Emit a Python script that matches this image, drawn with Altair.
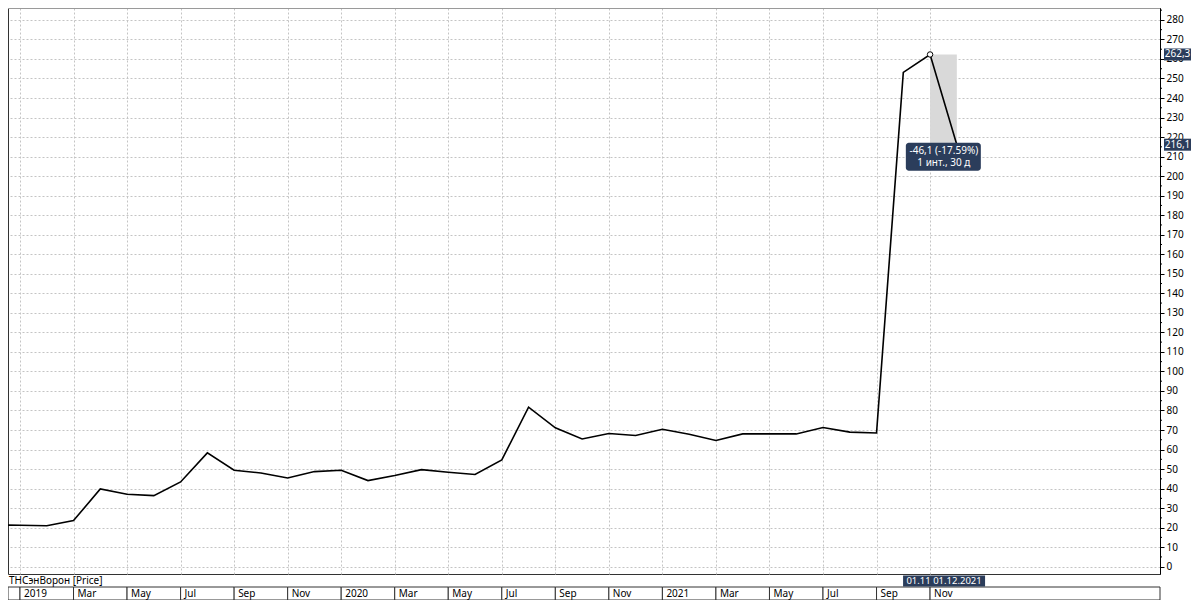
import altair as alt
import pandas as pd

# ---------------- data ----------------
months = [
    "2018-12",
    "2019-01", "2019-02", "2019-03", "2019-04", "2019-05", "2019-06",
    "2019-07", "2019-08", "2019-09", "2019-10", "2019-11", "2019-12",
    "2020-01", "2020-02", "2020-03", "2020-04", "2020-05", "2020-06",
    "2020-07", "2020-08", "2020-09", "2020-10", "2020-11", "2020-12",
    "2021-01", "2021-02", "2021-03", "2021-04", "2021-05", "2021-06",
    "2021-07", "2021-08", "2021-09", "2021-10", "2021-11", "2021-12",
]
prices = [
    21.4,
    21.2, 21.0, 23.6, 39.8, 37.1, 36.4,
    43.4, 58.3, 49.4, 48.0, 45.4, 48.7,
    49.4, 44.1, 46.7, 49.7, 48.4, 47.2,
    54.7, 81.7, 71.1, 65.4, 68.2, 67.2,
    70.4, 67.8, 64.6, 68.0, 68.0, 68.0,
    71.3, 68.9, 68.5, 253.1, 262.3, 216.1,
]
tick_months = [
    "2019-01", "2019-03", "2019-05", "2019-07", "2019-09", "2019-11",
    "2020-01", "2020-03", "2020-05", "2020-07", "2020-09", "2020-11",
    "2021-01", "2021-03", "2021-05", "2021-07", "2021-09", "2021-11",
]
tick_labels = [
    "2019", "Mar", "May", "Jul", "Sep", "Nov",
    "2020", "Mar", "May", "Jul", "Sep", "Nov",
    "2021", "Mar", "May", "Jul", "Sep", "Nov",
]
y_ticks = list(range(0, 281, 10))
y_minor = list(range(5, 286, 10))
series_name = "ТНСэнВорон [Price]"
change_lines = ["-46,1 (-17.59%)", "1 инт., 30 д"]
range_label = "01.11 01.12.2021"
hl_from, hl_to = "2021-11", "2021-12"

# ---------------- helpers ----------------
def midx(m):
    y, mo = m.split("-")
    return (int(y) - 2019) * 12 + int(mo) - 1

X_MIN, X_MAX = -0.448, 42.59
Y_MIN, Y_MAX = -3.74, 286.1
W, H = 1152, 566
FONT = "Noto Sans"
NAVY = "#2b3d5b"
GRID = "#c4c4c4"

x_scale = alt.Scale(domain=[X_MIN, X_MAX], nice=False, zero=False)
y_scale = alt.Scale(domain=[Y_MIN, Y_MAX], nice=False, zero=False)

x_axis = alt.Axis(values=[midx(m) for m in tick_months], grid=True, gridDash=[2, 2],
                  gridColor=GRID, gridWidth=1, labels=False, ticks=False,
                  domain=False, title=None)
y_axis = alt.Axis(orient="right", values=y_ticks, grid=True, gridDash=[2, 2],
                  gridColor=GRID, gridWidth=1, tickSize=4, tickColor="black",
                  domainColor="black", domainWidth=1, labelFontSize=10,
                  labelColor="black", labelPadding=2, labelFont=FONT, title=None)

def X(f):
    return alt.X(f, scale=x_scale, axis=x_axis)

def Y(f):
    return alt.Y(f, scale=y_scale, axis=y_axis)

df = pd.DataFrame({"month": months, "price": prices})
df["i"] = df["month"].map(midx)

p_from = prices[months.index(hl_from)]
p_to = prices[months.index(hl_to)]
hl = pd.DataFrame({"a": [midx(hl_from)], "b": [midx(hl_to)], "p1": [p_from], "p2": [p_to]})

# bottom strip cells
bounds = [X_MIN] + [midx(m) for m in tick_months] + [X_MAX]
cells = pd.DataFrame({
    "s": bounds[:-1],
    "e": bounds[1:],
    "label": [""] + tick_labels,
})

tags = pd.DataFrame({
    "v": [p_from, p_to],
    "t": [f"{p_from:.1f}".replace(".", ","), f"{p_to:.1f}".replace(".", ",")],
})

minor_df = pd.DataFrame({"v": y_minor})

# ---------------- layers ----------------
shade = alt.Chart(hl).mark_rect(color="#d9d9d9").encode(
    x=X("a:Q"), x2="b:Q", y=Y("p1:Q"), y2="p2:Q")

line = alt.Chart(df).mark_line(color="black", strokeWidth=1.6, clip=True).encode(
    x=X("i:Q"), y=Y("price:Q"))

peak = alt.Chart(hl).mark_point(shape="circle", filled=True, fill="white",
                                stroke="black", strokeWidth=1, size=30, opacity=1).encode(
    x=X("a:Q"), y=Y("p1:Q"))

minor = alt.Chart(minor_df).mark_rule(color="black", strokeWidth=1).encode(
    y=Y("v:Q"), x=alt.value(W), x2=alt.value(W + 2))

top_line = alt.Chart(alt.Data(values=[{}])).mark_rule(color="#9a9a9a", strokeWidth=2).encode(
    x=alt.value(0), x2=alt.value(W), y=alt.value(0))

tip_box = alt.Chart(hl).mark_rect(color=NAVY, cornerRadius=3, xOffset=-51,
                                  x2Offset=24, yOffset=-2, y2Offset=26).encode(
    x=X("b:Q"), x2="b:Q", y=Y("p2:Q"), y2="p2:Q")

tip_df = pd.DataFrame({"b": [midx(hl_to)] * 2, "p2": [p_to] * 2,
                       "t": change_lines, "k": [0, 1]})
tip_text1 = alt.Chart(tip_df[tip_df.k == 0]).mark_text(
    color="white", fontSize=10, font=FONT, align="center", baseline="middle",
    dx=-13, dy=6).encode(x=X("b:Q"), y=Y("p2:Q"), text="t:N")
tip_text2 = alt.Chart(tip_df[tip_df.k == 1]).mark_text(
    color="white", fontSize=10, font=FONT, align="center", baseline="middle",
    dx=-13, dy=18).encode(x=X("b:Q"), y=Y("p2:Q"), text="t:N")

tag_box = alt.Chart(tags).mark_rect(color=NAVY, yOffset=-6, y2Offset=6).encode(
    y=Y("v:Q"), y2="v:Q", x=alt.value(W + 4), x2=alt.value(W + 31))
tag_text = alt.Chart(tags).mark_text(color="white", fontSize=10, font=FONT,
                                     align="center", baseline="middle").encode(
    y=Y("v:Q"), x=alt.value(W + 17.5), text="t:N")

STRIP_TOP, STRIP_BOT = 579, 592
cell_rect = alt.Chart(cells).mark_rect(fill="white", stroke="#333", strokeWidth=1).encode(
    x=X("s:Q"), x2="e:Q", y=alt.value(STRIP_TOP), y2=alt.value(STRIP_BOT))
cell_text = alt.Chart(cells).mark_text(fontSize=10, font=FONT, color="black",
                                       align="left", baseline="middle", dx=4).encode(
    x=X("s:Q"), y=alt.value((STRIP_TOP + STRIP_BOT) / 2 + 0.5), text="label:N")

name_text = alt.Chart(alt.Data(values=[{"t": series_name}])).mark_text(
    fontSize=10, font=FONT, color="black", align="left", baseline="middle").encode(
    x=alt.value(1), y=alt.value(573), text="t:N")

range_df = pd.DataFrame({"a": [midx(hl_from)], "t": [range_label]})
range_box = alt.Chart(range_df).mark_rect(color=NAVY, xOffset=-27, x2Offset=55).encode(
    x=X("a:Q"), x2="a:Q", y=alt.value(567.5), y2=alt.value(578.5))
range_text = alt.Chart(range_df).mark_text(color="white", fontSize=9.5, font=FONT,
                                           align="center", baseline="middle", dx=14).encode(
    x=X("a:Q"), y=alt.value(573), text="t:N")

chart = alt.layer(
    shade, line, peak, minor, top_line, tip_box, tip_text1, tip_text2,
    tag_box, tag_text, cell_rect, cell_text, name_text, range_box, range_text,
).properties(
    width=W, height=H,
    padding={"left": 0, "top": 0, "right": 31, "bottom": 26},
    autosize=alt.AutoSizeParams(type="none"),
    background="white",
).configure(font=FONT).configure_view(stroke="#333", strokeWidth=1)

chart.save("out.html", embed_options={"renderer": "svg", "actions": False})
